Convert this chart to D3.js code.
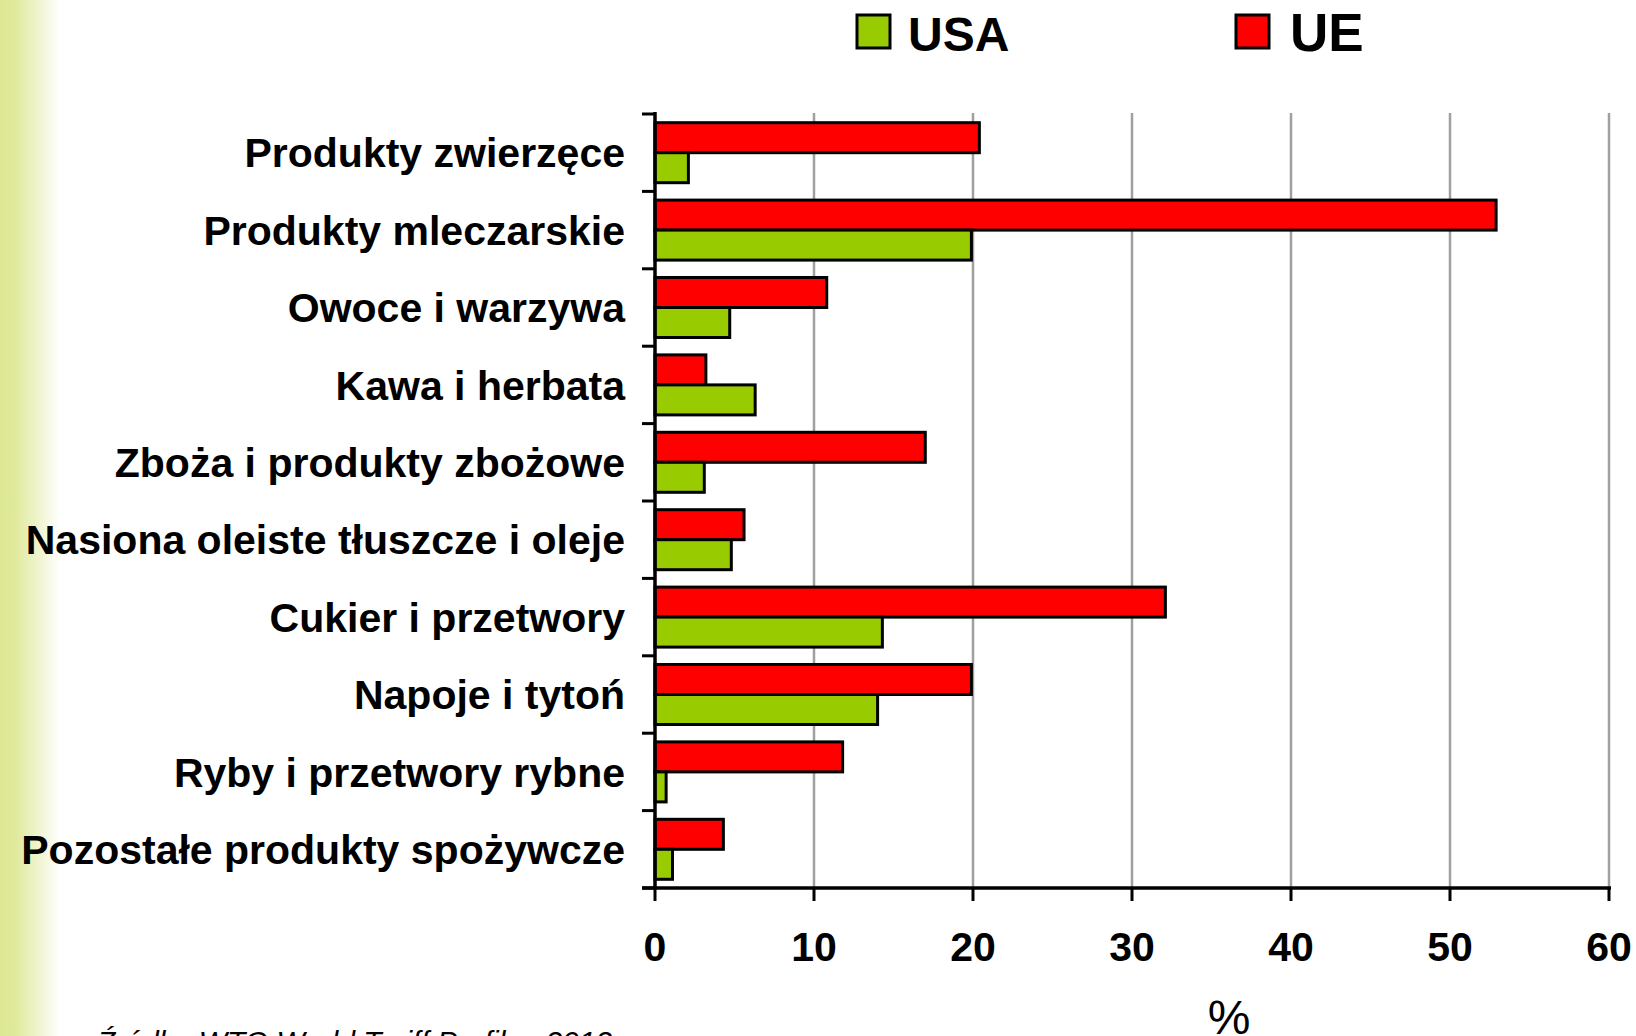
<!DOCTYPE html>
<html>
<head>
<meta charset="utf-8">
<script src="https://cdn.jsdelivr.net/npm/d3@7"></script>
<style>
  body { margin: 0; background: #fff; }
  svg { display: block; font-family: "Liberation Sans", Arial, sans-serif; }
</style>
</head>
<body>
<div id="chart"></div>
<script>
// data (tariff rates, %)
const categories = [
    'Produkty zwierzęce',
    'Produkty mleczarskie',
    'Owoce i warzywa',
    'Kawa i herbata',
    'Zboża i produkty zbożowe',
    'Nasiona oleiste tłuszcze i oleje',
    'Cukier i przetwory',
    'Napoje i tytoń',
    'Ryby i przetwory rybne',
    'Pozostałe produkty spożywcze'
]
const ueValues = [20.4, 52.9, 10.8, 3.2, 17.0, 5.6, 32.1, 19.9, 11.8, 4.3]
const usaValues = [2.1, 19.9, 4.7, 6.3, 3.1, 4.8, 14.3, 14.0, 0.7, 1.1]
const seriesNames = ['UE', 'USA']
const xTicks = [0, 10, 20, 30, 40, 50, 60]

const width = 1636, height = 1036
const color = { UE: '#ff0000', USA: '#99cc00' }

const svg = d3.select('#chart')
    .append('svg')
    .attr('width', width)
    .attr('height', height)

// green fade on the left edge
const grad = svg.append('defs').append('linearGradient')
    .attr('id', 'edge')
    .attr('x1', '0%').attr('x2', '100%')
grad.append('stop').attr('offset', '0%').attr('stop-color', '#dde893')
grad.append('stop').attr('offset', '25%').attr('stop-color', '#dfe99a')
grad.append('stop').attr('offset', '100%').attr('stop-color', '#ffffff')
svg.append('rect')
    .attr('x', 0).attr('y', 0)
    .attr('width', 60).attr('height', height)
    .style('fill', 'url(#edge)')

const x = d3.scaleLinear()
    .domain([0, 60])
    .range([655, 1609])

const y0 = d3.scaleBand()
    .domain(categories)
    .range([114, 888])

const y1 = d3.scaleBand()
    .domain(seriesNames)
    .range([0, y0.bandwidth()])
    .paddingOuter(0.29)

// vertical gridlines
svg.append('g')
    .selectAll('line')
    .data(xTicks.slice(1))
    .enter()
    .append('line')
    .attr('x1', d => x(d)).attr('x2', d => x(d))
    .attr('y1', 113).attr('y2', 888)
    .style('stroke', '#a0a0a0')
    .style('stroke-width', 2.5)

// bars
const rows = categories.map((c, i) => ({ cat: c, UE: ueValues[i], USA: usaValues[i] }))
svg.append('g')
    .selectAll('g')
    .data(rows)
    .enter()
    .append('g')
    .attr('transform', d => 'translate(0,' + y0(d.cat) + ')')
    .selectAll('rect')
    .data(d => seriesNames.map(s => ({ key: s, value: d[s] })))
    .enter()
    .append('rect')
    .attr('x', x(0))
    .attr('y', d => y1(d.key))
    .attr('width', d => x(d.value) - x(0))
    .attr('height', y1.bandwidth())
    .style('fill', d => color[d.key])
    .style('stroke', '#000')
    .style('stroke-width', 3)

// y axis with category ticks between groups
const yAxis = svg.append('g')
yAxis.append('line')
    .attr('x1', x(0)).attr('x2', x(0))
    .attr('y1', 112).attr('y2', 889)
    .style('stroke', '#000').style('stroke-width', 3.5)
yAxis.selectAll('line.tick')
    .data(categories.concat(['end']))
    .enter()
    .append('line')
    .attr('class', 'tick')
    .attr('x1', x(0) - 13).attr('x2', x(0))
    .attr('y1', (d, i) => y0.range()[0] + i * y0.step())
    .attr('y2', (d, i) => y0.range()[0] + i * y0.step())
    .style('stroke', '#000').style('stroke-width', 3)
yAxis.selectAll('text')
    .data(categories)
    .enter()
    .append('text')
    .attr('x', 625)
    .attr('y', d => y0(d) + y0.bandwidth() / 2)
    .attr('dy', '0.36em')
    .attr('text-anchor', 'end')
    .style('font-size', '41px')
    .style('font-weight', 'bold')
    .text(d => d)

// x axis
const xAxis = svg.append('g')
xAxis.append('line')
    .attr('x1', x(0) - 13).attr('x2', x(60) + 2)
    .attr('y1', 888).attr('y2', 888)
    .style('stroke', '#000').style('stroke-width', 3.5)
xAxis.selectAll('line.tick')
    .data(xTicks)
    .enter()
    .append('line')
    .attr('class', 'tick')
    .attr('x1', d => x(d)).attr('x2', d => x(d))
    .attr('y1', 888).attr('y2', 901)
    .style('stroke', '#000').style('stroke-width', 3)
xAxis.selectAll('text')
    .data(xTicks)
    .enter()
    .append('text')
    .attr('x', d => x(d))
    .attr('y', 961)
    .attr('text-anchor', 'middle')
    .style('font-size', '41px')
    .style('font-weight', 'bold')
    .text(d => d)

svg.append('text')
    .attr('x', 1229)
    .attr('y', 1034)
    .attr('text-anchor', 'middle')
    .style('font-size', '48px')
    .text('%')

svg.append('text')
    .attr('x', 97)
    .attr('y', 1052)
    .style('font-size', '30px')
    .style('font-style', 'italic')
    .text('Źródło: WTO World Tariff Profiles 2012')

// legend
const legend = [
    { key: 'USA', box: 857, tx: 908, size: 48 },
    { key: 'UE', box: 1236, tx: 1290, size: 53 }
]
const lg = svg.append('g')
lg.selectAll('rect')
    .data(legend)
    .enter()
    .append('rect')
    .attr('x', d => d.box).attr('y', 15)
    .attr('width', 33).attr('height', 33)
    .style('fill', d => color[d.key])
    .style('stroke', '#000')
    .style('stroke-width', 3)
lg.selectAll('text')
    .data(legend)
    .enter()
    .append('text')
    .attr('x', d => d.tx).attr('y', 51)
    .style('font-size', d => d.size + 'px')
    .style('font-weight', 'bold')
    .text(d => d.key)
</script>
</body>
</html>
